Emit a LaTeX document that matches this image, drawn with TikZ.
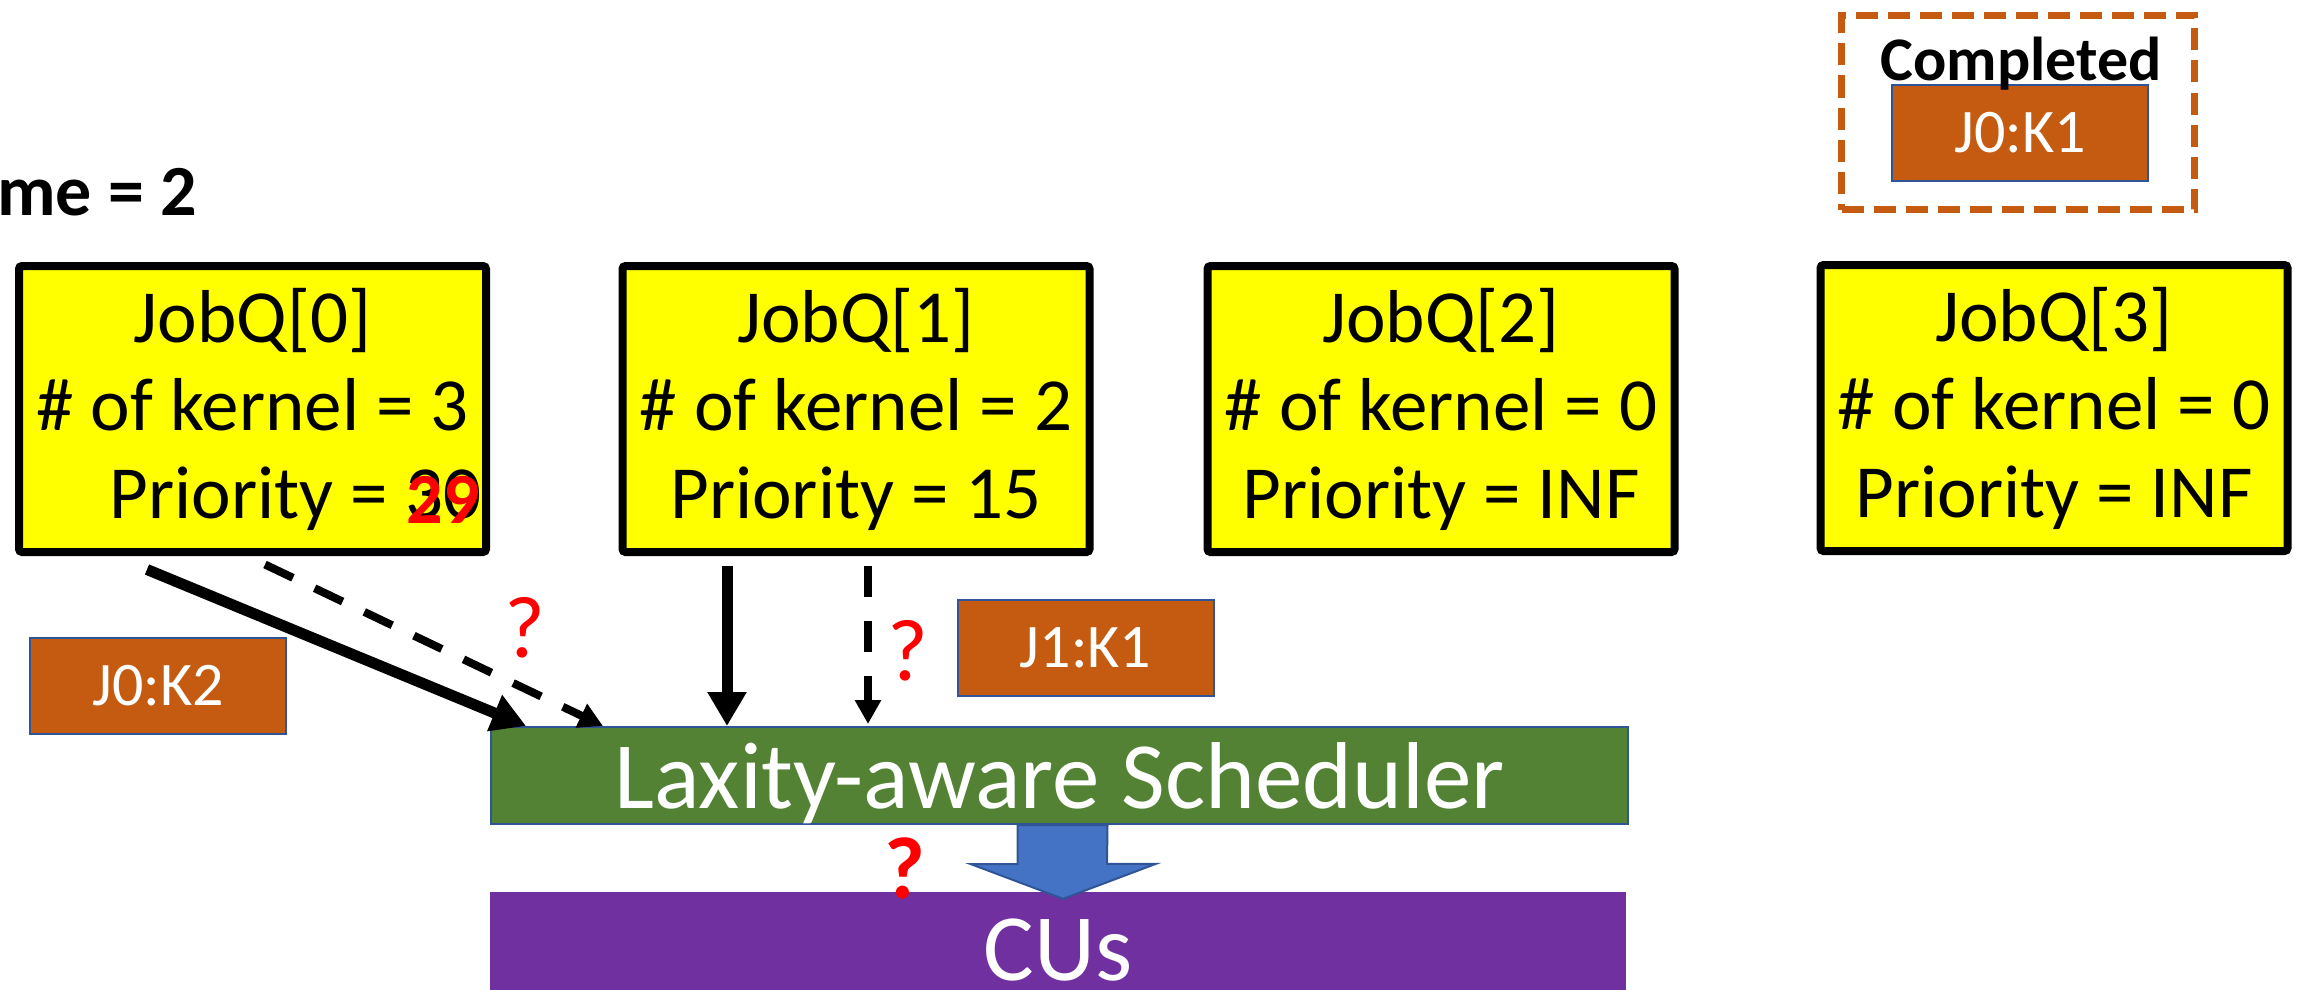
\documentclass[tikz,border=0pt]{standalone}
\usepackage{fontspec}
\setmainfont{Carlito}
\usepackage{xcolor}
\usetikzlibrary{arrows.meta, positioning, calc}
\definecolor{jobyellow}{HTML}{FFFF00}
\definecolor{kernorange}{HTML}{C55A11}
\definecolor{edgeblue}{HTML}{2F5597}
\definecolor{schedgreen}{HTML}{548235}
\definecolor{cupurple}{HTML}{7030A0}
\definecolor{flowblue}{HTML}{4472C4}

\begin{document}
\begin{tikzpicture}[x=1pt, y=-1pt,
        jobq/.style={rectangle, draw=black, line width=8pt, rounded corners=3pt, fill=jobyellow, minimum width=467pt, minimum height=286pt, inner sep=0pt, align=center, font=\fontsize{75}{88}\selectfont},
        kern/.style={rectangle, draw=edgeblue, line width=2pt, fill=kernorange, minimum width=256pt, minimum height=96pt, inner sep=0pt, text=white, font=\fontsize{62}{74}\selectfont},
        qmark/.style={text=red, inner sep=0pt, font=\fontsize{88}{100}\selectfont},
        sched/.style={rectangle, draw=edgeblue, line width=2pt, fill=schedgreen, minimum width=1137pt, minimum height=97pt, inner sep=0pt, text=white, text height=70pt, text depth=5pt, font=\fontsize{95}{110}\selectfont},
        cubar/.style={rectangle, fill=cupurple, minimum width=1136pt, minimum height=98pt, inner sep=0pt, text=white, text height=78pt, text depth=0pt, font=\fontsize{95}{110}\selectfont},
        donebox/.style={rectangle, draw=kernorange, line width=7pt, dash pattern=on 22pt off 10pt, minimum width=353pt, minimum height=194pt, inner sep=0pt},
        arrow/.style={-{Triangle[length=34pt,width=37pt]}, line width=11pt},
        dasharrow/.style={-{Triangle[length=24pt,width=25pt]}, line width=8pt, dash pattern=on 31pt off 24pt},
        blockarrow/.style={draw=edgeblue, line width=2pt, fill=flowblue, line join=miter}
    ]
        \useasboundingbox (0,0) rectangle (2305,990);

        % clock
        \node[anchor=base east, inner sep=0pt, font=\bfseries\fontsize{72}{80}\selectfont] (clock) at (197,215) {me = 2};

        % job queues
        \node[jobq] (q0) at (252.5,409) {JobQ[0]\\\# of kernel = 3\\\hspace*{86pt}Priority = 30};
        \node[jobq] (q1) at (856,409) {JobQ[1]\\\# of kernel = 2\\Priority = 15};
        \node[jobq] (q2) at (1441,409) {JobQ[2]\\\# of kernel = 0\\Priority = INF};
        \node[jobq] (q3) at (2054,408) {JobQ[3]\\\# of kernel = 0\\Priority = INF};
        \node[anchor=base, inner sep=0pt, text=red, font=\bfseries\fontsize{72}{80}\selectfont] (prio29) at (443,523) {29};

        % completed kernels
        \node[donebox] (donebox) at (2018,112.5) {};
        \node[kern] (j0k1) at (2020,133) {J0:K1};
        \node[anchor=base, inner sep=0pt, font=\bfseries\fontsize{62}{70}\selectfont] (donetitle) at (2021,81) {Completed};

        % pending kernels
        \node[kern] (j0k2) at (158,686) {J0:K2};
        \node[kern] (j1k1) at (1085.5,648) {J1:K1};

        % scheduler and CUs
        \node[sched] (sched) at (1059.5,775.5) {Laxity-aware Scheduler};
        \node[cubar] (cus) at (1058,941) {CUs};
        \coordinate (tip) at ([xshift=5pt,yshift=-7pt]cus.north);
        \draw[blockarrow] ([xshift=-42pt]sched.south) -- ++(0,39) -- ++(-47,0) -- (tip) -- ++(93,-35) -- ++(-49,0) -- ([xshift=48pt]sched.south) -- cycle;

        \draw[arrow] ([xshift=-105.5pt,yshift=-13.5pt]q0.south) -- ([xshift=36pt]sched.north west);
        \draw[dasharrow] ([xshift=12.5pt,yshift=-8.5pt]q0.south) -- ([xshift=113pt]sched.north west);
        \draw[arrow] ([xshift=-129pt,yshift=-9.5pt]q1.south) -- ([xshift=237pt]sched.north west);
        \draw[dasharrow] ([xshift=12pt,yshift=-9.5pt]q1.south) -- ([xshift=378pt,yshift=2pt]sched.north west);

        \node[qmark] (ask0) at (525,628) {?};
        \node[qmark] (ask1) at (908,651) {?};
        \node[qmark, font=\bfseries\fontsize{88}{100}\selectfont] (askcu) at (905,868) {?};
    \end{tikzpicture}
\end{document}
